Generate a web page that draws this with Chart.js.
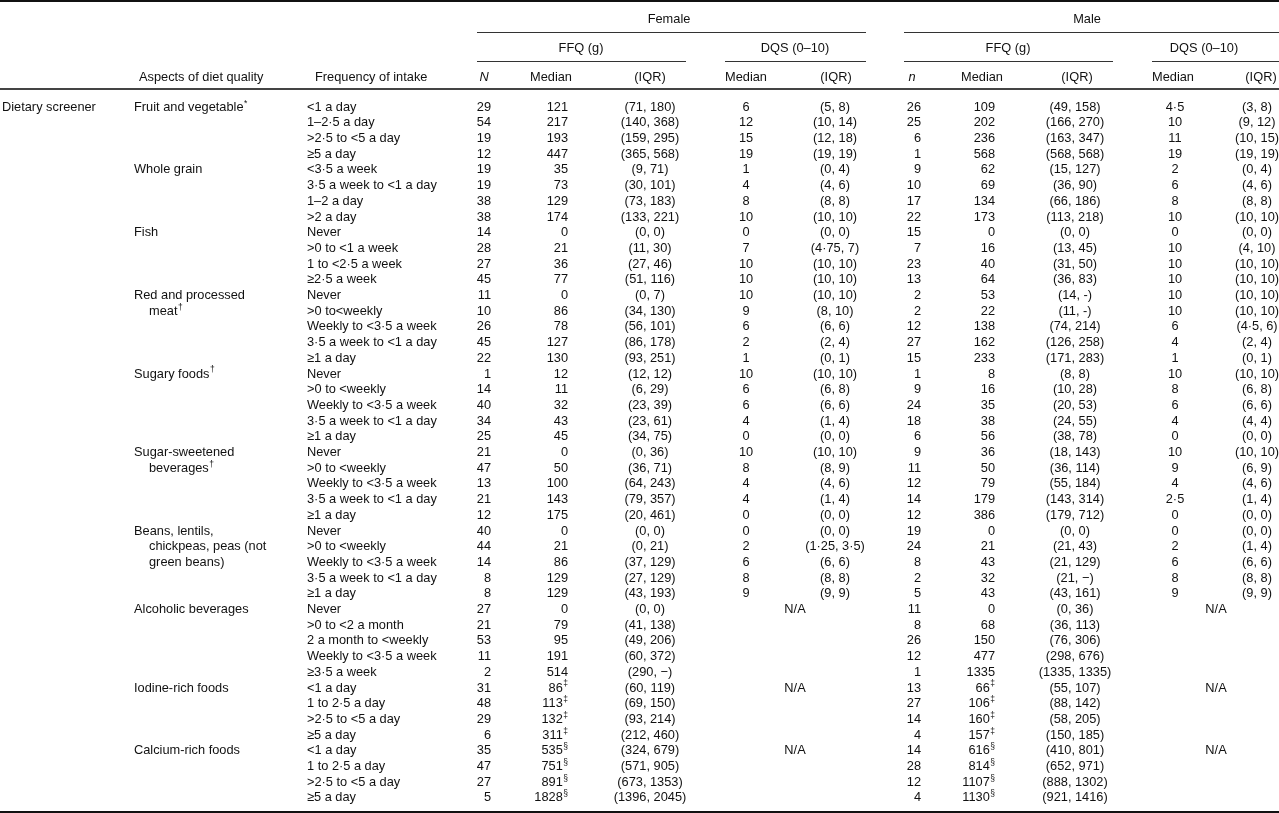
<!DOCTYPE html>
<html>
<head>
<meta charset="utf-8">
<script src="https://cdn.jsdelivr.net/npm/chart.js@4.4.1/dist/chart.umd.min.js"></script>
<style>
  html, body { margin: 0; padding: 0; background: #fff; }
  #wrap { width: 1279px; height: 813px; }
</style>
</head>
<body>
<div id="wrap"><canvas id="dqsTable" width="1279" height="813"></canvas></div>
<script>
// ---- data ----
const screenerLabel = "Dietary screener";
const groupLabels = ["Female", "Male"];
const methodLabels = ["FFQ (g)", "DQS (0–10)"];
const femaleColLabels = ["N", "Median", "(IQR)", "Median", "(IQR)"];
const maleColLabels = ["n", "Median", "(IQR)", "Median", "(IQR)"];
const rowHeadLabels = ["Aspects of diet quality", "Frequency of intake"];

const aspectLines = [
  ["Fruit and vegetable"], ["Whole grain"], ["Fish"], ["Red and processed", "meat"],
  ["Sugary foods"], ["Sugar-sweetened", "beverages"],
  ["Beans, lentils,", "chickpeas, peas (not", "green beans)"],
  ["Alcoholic beverages"], ["Iodine-rich foods"], ["Calcium-rich foods"]
];
const aspectNotes = ["*", "", "", "†", "†", "†", "", "", "", ""];
const aspectRows = [4, 4, 4, 5, 5, 5, 5, 5, 4, 4];
const medianNotes = ["", "", "", "", "", "", "", "", "‡", "§"];

const frequencies = [
  "<1 a day", "1–2·5 a day", ">2·5 to <5 a day", "≥5 a day",
  "<3·5 a week", "3·5 a week to <1 a day", "1–2 a day", ">2 a day",
  "Never", ">0 to <1 a week", "1 to <2·5 a week", "≥2·5 a week",
  "Never", ">0 to<weekly", "Weekly to <3·5 a week", "3·5 a week to <1 a day", "≥1 a day",
  "Never", ">0 to <weekly", "Weekly to <3·5 a week", "3·5 a week to <1 a day", "≥1 a day",
  "Never", ">0 to <weekly", "Weekly to <3·5 a week", "3·5 a week to <1 a day", "≥1 a day",
  "Never", ">0 to <weekly", "Weekly to <3·5 a week", "3·5 a week to <1 a day", "≥1 a day",
  "Never", ">0 to <2 a month", "2 a month to <weekly", "Weekly to <3·5 a week", "≥3·5 a week",
  "<1 a day", "1 to 2·5 a day", ">2·5 to <5 a day", "≥5 a day",
  "<1 a day", "1 to 2·5 a day", ">2·5 to <5 a day", "≥5 a day"
];

// female
const femaleN = [29, 54, 19, 12, 19, 19, 38, 38, 14, 28, 27, 45, 11, 10, 26, 45, 22, 1, 14, 40, 34, 25,
  21, 47, 13, 21, 12, 40, 44, 14, 8, 8, 27, 21, 53, 11, 2, 31, 48, 29, 6, 35, 47, 27, 5];
const femaleMedian = [121, 217, 193, 447, 35, 73, 129, 174, 0, 21, 36, 77, 0, 86, 78, 127, 130, 12, 11, 32, 43, 45,
  0, 50, 100, 143, 175, 0, 21, 86, 129, 129, 0, 79, 95, 191, 514, 86, 113, 132, 311, 535, 751, 891, 1828];
const femaleIQR = [[71, 180], [140, 368], [159, 295], [365, 568], [9, 71], [30, 101], [73, 183], [133, 221],
  [0, 0], [11, 30], [27, 46], [51, 116], [0, 7], [34, 130], [56, 101], [86, 178], [93, 251],
  [12, 12], [6, 29], [23, 39], [23, 61], [34, 75], [0, 36], [36, 71], [64, 243], [79, 357], [20, 461],
  [0, 0], [0, 21], [37, 129], [27, 129], [43, 193], [0, 0], [41, 138], [49, 206], [60, 372], [290, null],
  [60, 119], [69, 150], [93, 214], [212, 460], [324, 679], [571, 905], [673, 1353], [1396, 2045]];
const femaleDqsMedian = [6, 12, 15, 19, 1, 4, 8, 10, 0, 7, 10, 10, 10, 9, 6, 2, 1, 10, 6, 6, 4, 0,
  10, 8, 4, 4, 0, 0, 2, 6, 8, 9, null, null, null, null, null, null, null, null, null, null, null, null, null];
const femaleDqsIQR = [[5, 8], [10, 14], [12, 18], [19, 19], [0, 4], [4, 6], [8, 8], [10, 10], [0, 0], [4.75, 7],
  [10, 10], [10, 10], [10, 10], [8, 10], [6, 6], [2, 4], [0, 1], [10, 10], [6, 8], [6, 6], [1, 4], [0, 0],
  [10, 10], [8, 9], [4, 6], [1, 4], [0, 0], [0, 0], [1.25, 3.5], [6, 6], [8, 8], [9, 9],
  null, null, null, null, null, null, null, null, null, null, null, null, null];

// male
const maleN = [26, 25, 6, 1, 9, 10, 17, 22, 15, 7, 23, 13, 2, 2, 12, 27, 15, 1, 9, 24, 18, 6,
  9, 11, 12, 14, 12, 19, 24, 8, 2, 5, 11, 8, 26, 12, 1, 13, 27, 14, 4, 14, 28, 12, 4];
const maleMedian = [109, 202, 236, 568, 62, 69, 134, 173, 0, 16, 40, 64, 53, 22, 138, 162, 233, 8, 16, 35, 38, 56,
  36, 50, 79, 179, 386, 0, 21, 43, 32, 43, 0, 68, 150, 477, 1335, 66, 106, 160, 157, 616, 814, 1107, 1130];
const maleIQR = [[49, 158], [166, 270], [163, 347], [568, 568], [15, 127], [36, 90], [66, 186], [113, 218],
  [0, 0], [13, 45], [31, 50], [36, 83], [14, "-"], [11, "-"], [74, 214], [126, 258], [171, 283],
  [8, 8], [10, 28], [20, 53], [24, 55], [38, 78], [18, 143], [36, 114], [55, 184], [143, 314], [179, 712],
  [0, 0], [21, 43], [21, 129], [21, null], [43, 161], [0, 36], [36, 113], [76, 306], [298, 676], [1335, 1335],
  [55, 107], [88, 142], [58, 205], [150, 185], [410, 801], [652, 971], [888, 1302], [921, 1416]];
const maleDqsMedian = [4.5, 10, 11, 19, 2, 6, 8, 10, 0, 10, 10, 10, 10, 10, 6, 4, 1, 10, 8, 6, 4, 0,
  10, 9, 4, 2.5, 0, 0, 2, 6, 8, 9, null, null, null, null, null, null, null, null, null, null, null, null, null];
const maleDqsIQR = [[3, 8], [9, 12], [10, 15], [19, 19], [0, 4], [4, 6], [8, 8], [10, 10], [0, 0], [4, 10],
  [10, 10], [10, 10], [10, 10], [10, 10], [4.5, 6], [2, 4], [0, 1], [10, 10], [6, 8], [6, 6], [4, 4], [0, 0],
  [10, 10], [6, 9], [4, 6], [1, 4], [0, 0], [0, 0], [1, 4], [6, 6], [8, 8], [9, 9],
  null, null, null, null, null, null, null, null, null, null, null, null, null];

// ---- layout ----
const FONT_SIZE = 12.8;
const FAMILY = "'Liberation Sans', Arial, Helvetica, sans-serif";
const FONT = FONT_SIZE + "px " + FAMILY;
const FONT_IT = "italic " + FONT;
const SUP_FONT = "8.5px " + FAMILY;
const ROW0 = 106;      // centre of first body row (px)
const ROW_H = 15.7;    // body row pitch (px)
const H = 813;

// column anchors, per sex block: [N, median, IQR, DQS median, DQS IQR]
const femaleX = [491, 568, 650, 746, 835];
const maleX = [921, 995, 1075, 1175, 1257];
const colAlign = ["right", "right", "center", "center", "center"];

function num(v) {
  if (v === null) return "−";
  return String(v).replace(".", "·");
}
function iqr(p) { return "(" + num(p[0]) + ", " + num(p[1]) + ")"; }

function groupOfRow(i) {
  let acc = 0;
  for (let g = 0; g < aspectRows.length; g++) {
    acc += aspectRows[g];
    if (i < acc) return g;
  }
  return aspectRows.length - 1;
}

function drawText(ctx, x, y, main, sup, align, font) {
  ctx.font = font || FONT;
  const w1 = ctx.measureText(main).width;
  let w2 = 0;
  if (sup) { ctx.font = SUP_FONT; w2 = ctx.measureText(sup).width + 0.5; }
  const total = w1 + w2;
  const left = align === "right" ? x - total : align === "center" ? x - total / 2 : x;
  ctx.textAlign = "left";
  ctx.textBaseline = "alphabetic";
  ctx.font = font || FONT;
  ctx.fillText(main, left, y + 4.6);
  if (sup) {
    ctx.font = SUP_FONT;
    ctx.fillText(sup, left + w1 + 0.5, y - 0.5);
  }
}

function hline(ctx, x0, x1, y, w, color) {
  ctx.save();
  ctx.strokeStyle = color;
  ctx.lineWidth = w;
  ctx.beginPath();
  ctx.moveTo(x0, y);
  ctx.lineTo(x1, y);
  ctx.stroke();
  ctx.restore();
}

const tablePlugin = {
  id: "tablePlugin",
  afterDraw(chart) {
    const ctx = chart.ctx;
    const xs = chart.scales.x;
    const ys = chart.scales.y;
    const X = v => xs.getPixelForValue(v);
    const Y = v => ys.getPixelForValue(v);
    ctx.save();
    ctx.fillStyle = "#111";

    // rules
    hline(ctx, 0, 1279, 1, 2, "#111");
    hline(ctx, 477, 866, 32.5, 1, "#333");
    hline(ctx, 904, 1279, 32.5, 1, "#333");
    hline(ctx, 477, 686, 61.5, 1, "#333");
    hline(ctx, 725, 866, 61.5, 1, "#333");
    hline(ctx, 904, 1113, 61.5, 1, "#333");
    hline(ctx, 1152, 1279, 61.5, 1, "#333");
    hline(ctx, 0, 1279, 89, 2, "#444");
    hline(ctx, 0, 1279, 812, 2, "#111");

    // header
    drawText(ctx, 669, 18, groupLabels[0], "", "center");
    drawText(ctx, 1087, 18, groupLabels[1], "", "center");
    drawText(ctx, 581, 47, methodLabels[0], "", "center");
    drawText(ctx, 795, 47, methodLabels[1], "", "center");
    drawText(ctx, 1008, 47, methodLabels[0], "", "center");
    drawText(ctx, 1204, 47, methodLabels[1], "", "center");
    drawText(ctx, 139, 76, rowHeadLabels[0], "", "left");
    drawText(ctx, 315, 76, rowHeadLabels[1], "", "left");
    const headFX = [484, 551, 650, 746, 836];
    const headMX = [912, 982, 1077, 1173, 1261];
    femaleColLabels.forEach((t, k) => drawText(ctx, headFX[k], 76, t, "", "center", k === 0 ? FONT_IT : FONT));
    maleColLabels.forEach((t, k) => drawText(ctx, headMX[k], 76, t, "", "center", k === 0 ? FONT_IT : FONT));

    // body: row positions come from the y scale
    drawText(ctx, X(2), Y(0), screenerLabel, "", "left");
    let start = 0;
    aspectLines.forEach((lines, g) => {
      lines.forEach((ln, k) => {
        const sup = k === lines.length - 1 ? aspectNotes[g] : "";
        drawText(ctx, X(k === 0 ? 134 : 149), Y(start + k), ln, sup, "left");
      });
      // DQS not applicable for the whole aspect
      if (femaleDqsMedian[start] === null) {
        drawText(ctx, X(795), Y(start), "N/A", "", "center");
        drawText(ctx, X(1216), Y(start), "N/A", "", "center");
      }
      start += aspectRows[g];
    });

    frequencies.forEach((f, i) => {
      const y = Y(i);
      const note = medianNotes[groupOfRow(i)];
      drawText(ctx, X(307), y, f, "", "left");
      const blocks = [
        [femaleX, femaleN, femaleMedian, femaleIQR, femaleDqsMedian, femaleDqsIQR],
        [maleX, maleN, maleMedian, maleIQR, maleDqsMedian, maleDqsIQR]
      ];
      blocks.forEach(([cx, n, med, q, dmed, dq]) => {
        drawText(ctx, X(cx[0]), y, num(n[i]), "", colAlign[0]);
        drawText(ctx, X(cx[1]), y, num(med[i]), note, colAlign[1]);
        drawText(ctx, X(cx[2]), y, iqr(q[i]), "", colAlign[2]);
        if (dmed[i] !== null) {
          drawText(ctx, X(cx[3]), y, num(dmed[i]), "", colAlign[3]);
          drawText(ctx, X(cx[4]), y, iqr(dq[i]), "", colAlign[4]);
        }
      });
    });
    ctx.restore();
  }
};

new Chart(document.getElementById("dqsTable"), {
  type: "scatter",
  data: { datasets: [] },
  options: {
    responsive: false,
    animation: false,
    layout: { padding: 0 },
    plugins: { legend: { display: false }, tooltip: { enabled: false } },
    scales: {
      x: { type: "linear", display: false, min: 0, max: 1279 },
      y: { type: "linear", display: false, reverse: true,
           min: -ROW0 / ROW_H, max: (H - ROW0) / ROW_H }
    }
  },
  plugins: [tablePlugin]
});
</script>
</body>
</html>
